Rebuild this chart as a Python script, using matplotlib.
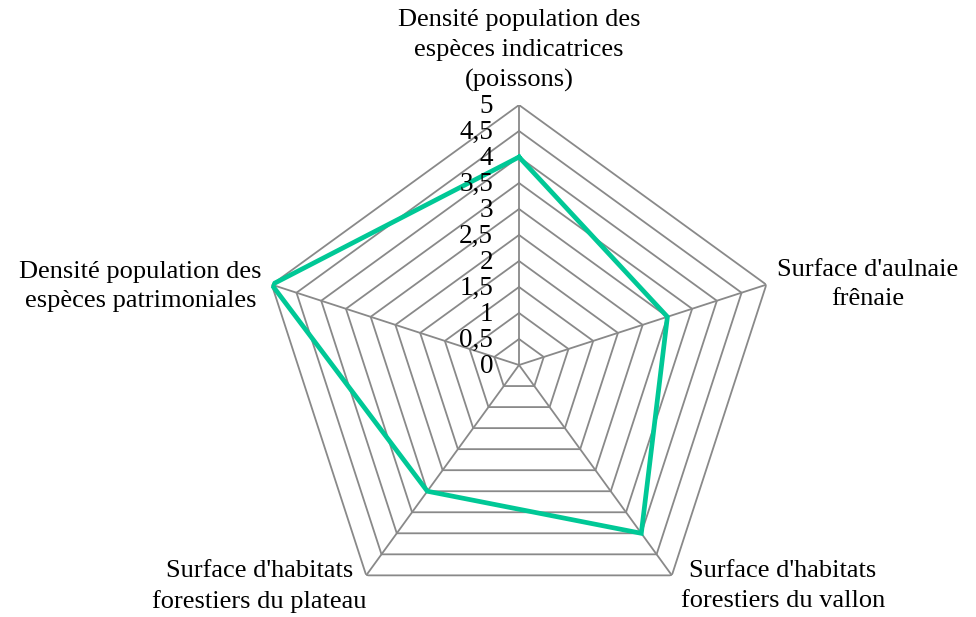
import numpy as np
import matplotlib
matplotlib.use("Agg")
import matplotlib.pyplot as plt

plt.rcParams["font.family"] = ["Liberation Serif", "DejaVu Serif"]

categories = [
    "Densité population des\nespèces indicatrices\n(poissons)",
    "Surface d'aulnaie\nfrênaie",
    "Surface d'habitats\nforestiers du vallon",
    "Surface d'habitats\nforestiers du plateau",
    "Densité population des\nespèces patrimoniales",
]
values = [4, 3, 4, 3, 5]
levels = [0.5, 1, 1.5, 2, 2.5, 3, 3.5, 4, 4.5, 5]
tick_labels = ["0", "0,5", "1", "1,5", "2", "2,5", "3", "3,5", "4", "4,5", "5"]
tick_values = [0, 0.5, 1, 1.5, 2, 2.5, 3, 3.5, 4, 4.5, 5]

grid_color = "#898989"
line_color = "#00c896"

n = len(categories)
angles = np.linspace(0, 2 * np.pi, n, endpoint=False)
closed = np.append(angles, angles[0])

fig = plt.figure(figsize=(9.76, 6.17), dpi=100)
ax = fig.add_axes([0.2654, -0.013, 0.5328, 0.8428], projection="polar")
ax.set_theta_offset(np.pi / 2)
ax.set_theta_direction(-1)
ax.set_ylim(0, 5)
ax.axis("off")

# polygon grid and spokes
for lv in levels:
    ax.plot(closed, [lv] * (n + 1), color=grid_color, lw=1.3, zorder=1)
for a in angles:
    ax.plot([a, a], [0, 5], color=grid_color, lw=1.3, zorder=1)

ax.plot(closed, values + values[:1], color=line_color, lw=3.4, zorder=3,
        solid_joinstyle="miter")

# radial tick labels along the top spoke
for tv, tl in zip(tick_values, tick_labels):
    ax.annotate(tl, (0, tv), xytext=(-26, -1), textcoords="offset pixels",
                ha="right", va="center", fontsize=19.5, annotation_clip=False)

# category labels
fs = 19
ls = 1.45
ax.annotate(categories[0], (angles[0], 5), xytext=(0, 13), textcoords="offset pixels",
            ha="center", va="bottom", fontsize=fs, linespacing=ls,
            multialignment="center", annotation_clip=False)
ax.annotate(categories[1], (angles[1], 5), xytext=(11, 0), textcoords="offset pixels",
            ha="left", va="center", fontsize=fs, linespacing=ls,
            multialignment="center", annotation_clip=False)
ax.annotate(categories[2], (angles[2], 5), xytext=(111, 15), textcoords="offset pixels",
            ha="center", va="top", fontsize=fs, linespacing=ls,
            multialignment="center", annotation_clip=False)
ax.annotate(categories[3], (angles[3], 5), xytext=(-107, 15), textcoords="offset pixels",
            ha="center", va="top", fontsize=fs, linespacing=ls,
            multialignment="center", annotation_clip=False)
ax.annotate(categories[4], (angles[4], 5), xytext=(-10, -2), textcoords="offset pixels",
            ha="right", va="center", fontsize=fs, linespacing=ls,
            multialignment="center", annotation_clip=False)

fig.savefig("out.png", dpi=100)
